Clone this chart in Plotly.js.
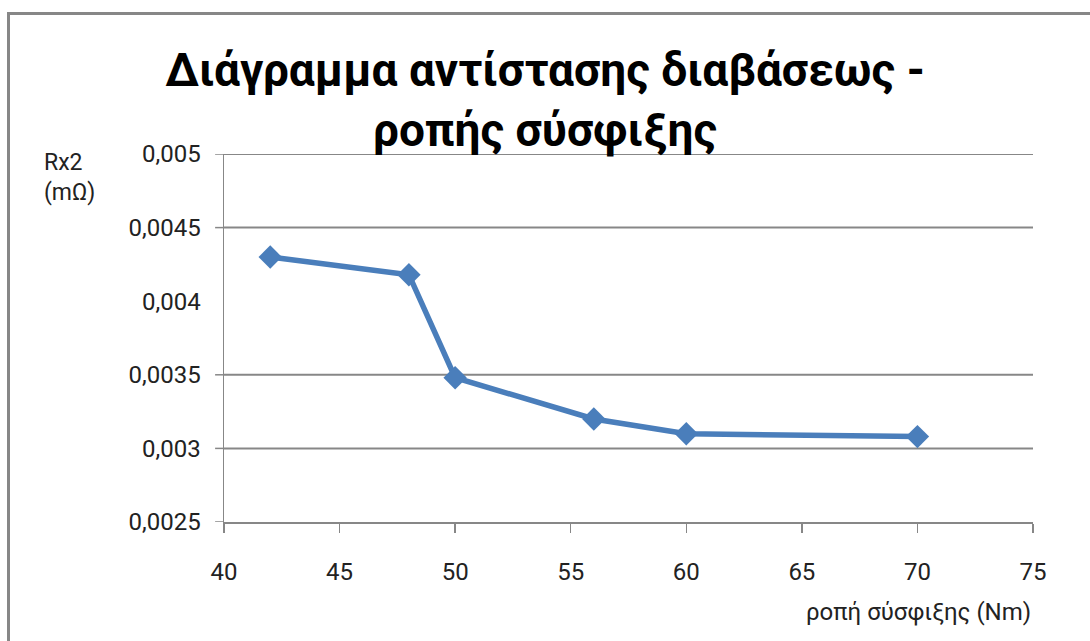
<!DOCTYPE html>
<html>
<head>
<meta charset="utf-8">
<script src="https://cdn.plot.ly/plotly-3.0.1.min.js"></script>
<style>
  html, body { margin: 0; padding: 0; background: #fff; overflow: hidden; }
  #frame { position: absolute; left: 7px; top: 12px; width: 1200px; height: 800px;
           border-left: 3px solid #878787; border-top: 3px solid #878787; }
  #chart { position: absolute; left: 0; top: 0; width: 1090px; height: 641px; }
</style>
</head>
<body>
<div id="frame"></div>
<div id="chart"></div>
<script>
// Data
const torque = [42, 48, 50, 56, 60, 70];              // ροπή σύσφιξης (Nm)
const resistance = [0.0043, 0.00418, 0.00348, 0.0032, 0.0031, 0.00308]; // Rx2 (mΩ)
const yTickVals = [0.0025, 0.003, 0.0035, 0.004, 0.0045, 0.005];
const yTickText = ["0,0025", "0,003", "0,0035", "0,004", "0,0045", "0,005"];
const xTickVals = [40, 45, 50, 55, 60, 65, 70, 75];
const gridVals = [0.003, 0.0035, 0.0045, 0.005];   // visible gridlines in the reference
const yTickMarkVals = [0.0025, 0.003, 0.0035, 0.0045, 0.005];

const FONT = 'Roboto, "DejaVu Sans", sans-serif';
const tickFont = { family: FONT, size: 24, color: '#222' };
const gridColor = '#878787';

const shapes = [];
gridVals.forEach(v => shapes.push({
  type: 'line', xref: 'x domain', yref: 'y', x0: 0, x1: 1, y0: v, y1: v,
  line: { color: gridColor, width: 2 }, layer: 'below'
}));
yTickMarkVals.forEach(v => shapes.push({
  type: 'line', xref: 'x domain', yref: 'y', x0: -0.011, x1: 0, y0: v, y1: v,
  line: { color: gridColor, width: 1.5 }, layer: 'below'
}));

const trace = {
  x: torque, y: resistance, type: 'scatter', mode: 'lines+markers',
  line: { color: '#4a7ebb', width: 5.5 },
  marker: { symbol: 'diamond', size: 18, color: '#4a7ebb' },
  hoverinfo: 'x+y'
};

const layout = {
  width: 1090, height: 641,
  paper_bgcolor: 'rgba(0,0,0,0)', plot_bgcolor: 'rgba(0,0,0,0)',
  margin: { l: 224, r: 57, t: 154, b: 119 },
  showlegend: false,
  separators: ',.',
  title: {
    text: 'Διάγραμμα αντίστασης διαβάσεως -<br>ροπής σύσφιξης',
    font: { family: FONT, size: 46, color: '#000', weight: 'bold' },
    xref: 'container', x: 0.5, xanchor: 'center',
    yref: 'container', y: 0.866, yanchor: 'top'
  },
  xaxis: {
    range: [40, 75], tickvals: xTickVals,
    showgrid: false, zeroline: false,
    showline: true, linecolor: gridColor, linewidth: 2,
    ticks: 'outside', ticklen: 9, tickwidth: 1.5, tickcolor: gridColor,
    tickfont: tickFont, ticklabelstandoff: 18
  },
  yaxis: {
    range: [0.0025, 0.005], tickvals: yTickVals, ticktext: yTickText,
    showgrid: false, zeroline: false,
    showline: true, linecolor: gridColor, linewidth: 1.5,
    ticks: 'outside', ticklen: 9, tickcolor: 'rgba(0,0,0,0)',
    tickfont: tickFont, ticklabelstandoff: 8
  },
  shapes: shapes,
  annotations: [
    {
      text: 'Rx2<br>(mΩ)', xref: 'paper', yref: 'paper', x: -0.225, y: 1.02,
      xanchor: 'left', yanchor: 'top', align: 'left', showarrow: false,
      font: { family: FONT, size: 23, color: '#222' }
    },
    {
      text: 'ροπή σύσφιξης (Nm)', xref: 'paper', yref: 'paper', x: 1, y: 0,
      xanchor: 'right', yanchor: 'top', yshift: -74, showarrow: false,
      font: { family: FONT, size: 24, color: '#222' }
    }
  ]
};

Plotly.newPlot('chart', [trace], layout, { staticPlot: true, displayModeBar: false });
</script>
</body>
</html>
